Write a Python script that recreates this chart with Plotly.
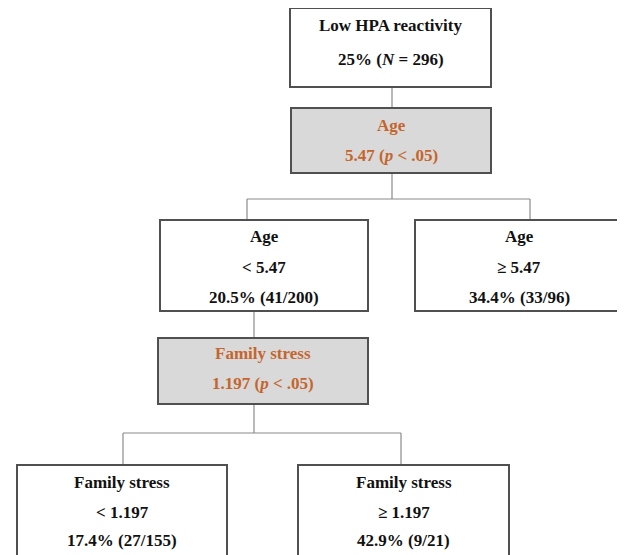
import plotly.graph_objects as go

# ---- data (text content of the tree) ----
root_label = "Low HPA reactivity"
root_pct = "25%"
root_n = 296

split_vars = ["Age", "Family stress"]
split_values = ["5.47", "1.197"]
split_p = ["< .05", "< .05"]

child_vars = ["Age", "Age", "Family stress", "Family stress"]
child_conditions = ["< 5.47", "≥ 5.47", "< 1.197", "≥ 1.197"]
child_pct = ["20.5", "34.4", "17.4", "42.9"]
child_hits = [41, 33, 27, 9]
child_n = [200, 96, 155, 21]

# ---- layout geometry (pixel-like coordinates) ----
root_box = (290, 8, 491, 87)
split_boxes = [(291, 108, 491, 173), (158, 338, 368, 404)]
child_boxes = [(160, 220, 368, 311), (415, 220, 623, 311),
               (17, 465, 227, 575), (298, 465, 509, 575)]
root_lines_y = [25, 59]
split_lines_y = [[125, 155], [353, 383]]
child_lines_y = [[236, 267, 297], [236, 267, 297], [482, 512, 540], [482, 512, 540]]

# connectors: (stem_x, stem_top, bar_y, left_x, right_x, child_top)
connectors = [(392, 173, 199, 247, 530, 220), (254, 404, 433, 123, 401, 465)]
extra_lines = [((392, 87), (392, 108)), ((254, 311), (254, 338))]

BORDER = "#505050"
LINE = "#8a8a8a"
GRAY = "#d9d9d9"
ORANGE = "#c5652d"
FONT = "Liberation Serif, Times New Roman, serif"

fig = go.Figure()
shapes = []
annotations = []


def box(b, fill):
    shapes.append(dict(type="rect", xref="x", yref="y", x0=b[0], y0=b[1], x1=b[2], y1=b[3],
                       line=dict(color=BORDER, width=2), fillcolor=fill, layer="above"))


def line(p0, p1):
    shapes.append(dict(type="line", xref="x", yref="y", x0=p0[0], y0=p0[1], x1=p1[0], y1=p1[1],
                       line=dict(color=LINE, width=1.2), layer="below"))


def text(x, y, s, color="#111111"):
    annotations.append(dict(x=x, y=y, xref="x", yref="y", text="<b>" + s + "</b>", showarrow=False,
                            xanchor="center", yanchor="middle",
                            font=dict(family=FONT, size=17, color=color)))


# lines
for (sx, st, by, lx, rx, ct) in connectors:
    line((sx, st), (sx, by))
    line((lx, by), (rx, by))
    line((lx, by), (lx, ct))
    line((rx, by), (rx, ct))
for p0, p1 in extra_lines:
    line(p0, p1)

# root
box(root_box, "white")
cx = (root_box[0] + root_box[2]) / 2
text(cx, root_lines_y[0], root_label)
text(cx, root_lines_y[1], f"{root_pct} (<i>N</i> = {root_n})")

# split nodes
for i, b in enumerate(split_boxes):
    box(b, GRAY)
    cx = (b[0] + b[2]) / 2
    text(cx, split_lines_y[i][0], split_vars[i], ORANGE)
    text(cx, split_lines_y[i][1], f"{split_values[i]} (<i>p</i> {split_p[i]})", ORANGE)

# child nodes
for i, b in enumerate(child_boxes):
    box(b, "white")
    cx = (b[0] + b[2]) / 2
    ys = child_lines_y[i]
    text(cx, ys[0], child_vars[i])
    text(cx, ys[1], child_conditions[i])
    text(cx, ys[2], f"{child_pct[i]}% ({child_hits[i]}/{child_n[i]})")

# page body has an 8px margin, so the axes are offset to keep reference pixel positions
OFFSET = 8
fig.update_layout(
    width=625, height=555,
    margin=dict(l=0, r=0, t=0, b=0),
    paper_bgcolor="white", plot_bgcolor="white",
    shapes=shapes, annotations=annotations,
    xaxis=dict(range=[OFFSET, 625 + OFFSET], visible=False, fixedrange=True),
    yaxis=dict(range=[555 + OFFSET, OFFSET], visible=False, fixedrange=True),
    showlegend=False,
)

fig.write_html("out.html")
